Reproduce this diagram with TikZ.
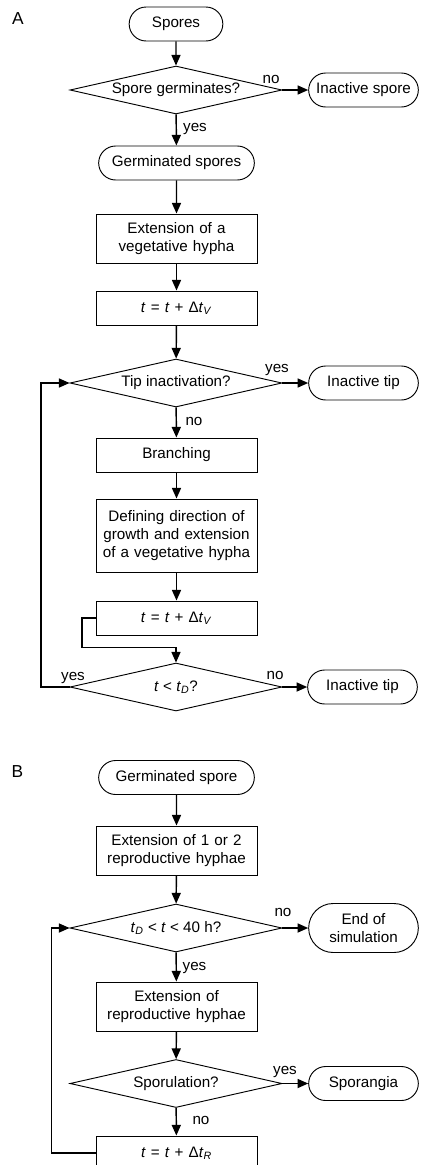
\documentclass[tikz,border=0pt]{standalone}
\usepackage{fontspec}
\setmainfont{Liberation Sans}
\usetikzlibrary{shapes.geometric, shapes.misc, arrows.meta}

\begin{document}
\begin{tikzpicture}[x=0.75pt, y=-0.75pt,
    every node/.append style={font=\fontsize{11.4}{13.4}\selectfont},
    terminal/.style={draw, rounded rectangle, line width=0.7pt, minimum width=120.75pt, minimum height=25.5pt, inner sep=2pt, align=center},
    side/.style={terminal, minimum width=86.25pt},
    process/.style={draw, rectangle, line width=0.7pt, minimum width=120.75pt, minimum height=25.5pt, text width=116pt, align=center, inner sep=2pt},
    decision/.style={draw, diamond, aspect=4.4, line width=0.7pt, minimum width=159pt, minimum height=36pt, inner sep=0pt},
    flow/.style={-{Triangle[length=8pt, width=6.8pt]}, line width=1.1pt},
    answer/.style={anchor=base, inner sep=0pt},
    panel/.style={anchor=center, font=\fontsize{13}{15}\selectfont}]
    \useasboundingbox (0,0) rectangle (422,1165);

    % A
    \node[panel] (panA) at (18,18.5) {A};
    \node[terminal, minimum width=74.25pt] (spores) at (176,24) {Spores};
    \node[decision] (germq) at (176,90) {Spore germinates?};
    \node[side] (inspore) at (363.5,90) {Inactive spore};
    \node[terminal] (germ) at (176.5,163) {Germinated spores};
    \node[process, minimum height=36.75pt] (extveg) at (176.5,238.5) {Extension of a\\vegetative hypha};
    \node[process] (stepv) at (176.5,308) {\textit{t} = \textit{t} + Δ\textit{t}\textsubscript{\textit{V}}};
    \node[decision] (tipq) at (176,383) {Tip inactivation?};
    \node[side] (intip) at (363.5,383) {Inactive tip};
    \node[process] (branch) at (176.5,455) {Branching};
    \node[process, minimum height=54.75pt] (direct) at (176.5,535.5) {Defining direction of\\growth and extension\\of a vegetative hypha};
    \node[process] (stepv2) at (176.5,618) {\textit{t} = \textit{t} + Δ\textit{t}\textsubscript{\textit{V}}};
    \node[decision] (timeq) at (176,687) {\textit{t} < \textit{t}\textsubscript{\textit{D}}?};
    \node[side] (intip2) at (362.5,687) {Inactive tip};
    \coordinate (bendv) at (82,647.5);
    \coordinate (loopv) at (41,687);

    \node[answer] (noA1) at (271,83.5) {no};
    \node[answer] (yesA1) at (195,131) {yes};
    \node[answer] (yesA2) at (277,372.7) {yes};
    \node[answer] (noA2) at (194,425) {no};
    \node[answer] (yesA3) at (73,680.7) {yes};
    \node[answer] (noA3) at (275,679) {no};

    \draw[flow] (spores) -- (germq);
    \draw[flow] (germq) -- (inspore);
    \draw[flow] (germq) -- (germ);
    \draw[flow] (germ) -- (extveg);
    \draw[flow] (extveg) -- (stepv);
    \draw[flow] (stepv) -- (tipq);
    \draw[flow] (tipq) -- (intip);
    \draw[flow] (tipq) -- (branch);
    \draw[flow] (branch) -- (direct);
    \draw[flow] (direct) -- (stepv2);
    \draw[flow] (stepv2.west) -| (bendv) -| (timeq.north);
    \draw[flow] (timeq) -- (intip2);
    \draw[flow] (timeq.west) -- (loopv) |- (tipq.west);

    % B
    \node[panel] (panB) at (17.5,772) {B};
    \node[terminal] (germb) at (176.5,777.5) {Germinated spore};
    \node[process, minimum height=36.75pt] (extrep) at (176.5,850.5) {Extension of 1 or 2\\reproductive hyphae};
    \node[decision] (windowq) at (176,928) {\textit{t}\textsubscript{\textit{D}} < \textit{t} < 40 h?};
    \node[side, minimum height=36.75pt] (endsim) at (363.5,928) {End of\\simulation};
    \node[process, minimum height=36.75pt] (extrep2) at (176.5,1006.5) {Extension of\\reproductive hyphae};
    \node[decision] (sporq) at (176,1083.5) {Sporulation?};
    \node[side] (sporangia) at (363.5,1083.5) {Sporangia};
    \node[process] (stepr) at (176.5,1153) {\textit{t} = \textit{t} + Δ\textit{t}\textsubscript{\textit{R}}};
    \coordinate (loopr) at (51.5,1153);

    \node[answer] (noB1) at (283,916) {no};
    \node[answer] (yesB1) at (194.5,970) {yes};
    \node[answer] (yesB2) at (285,1074) {yes};
    \node[answer] (noB2) at (201,1124) {no};

    \draw[flow] (germb) -- (extrep);
    \draw[flow] (extrep) -- (windowq);
    \draw[flow] (windowq) -- (endsim);
    \draw[flow] (windowq) -- (extrep2);
    \draw[flow] (extrep2) -- (sporq);
    \draw[flow] (sporq) -- (sporangia);
    \draw[flow] (sporq) -- (stepr);
    \draw[flow] (stepr.west) -- (loopr) |- (windowq.west);
\end{tikzpicture}
\end{document}
